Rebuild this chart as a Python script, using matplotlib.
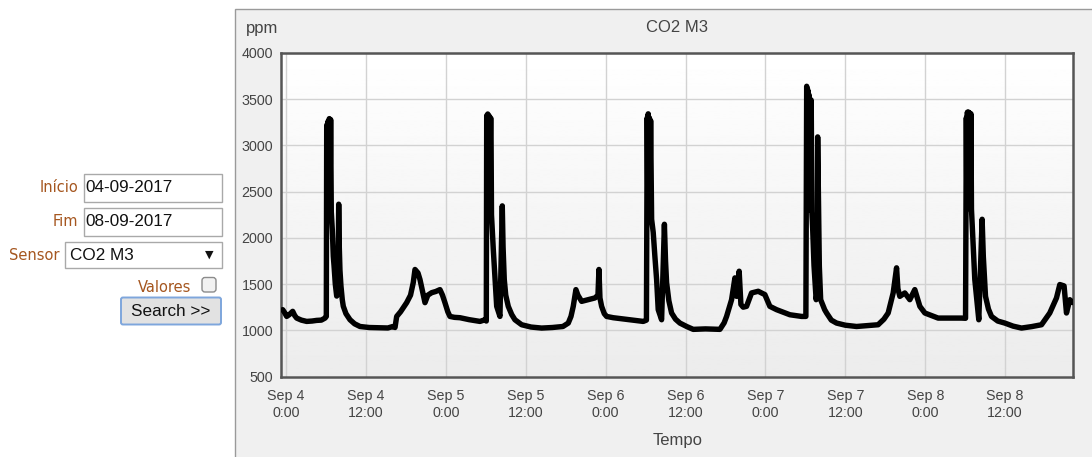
import matplotlib
matplotlib.use("Agg")
import matplotlib.pyplot as plt
import numpy as np
from matplotlib.patches import Rectangle, FancyBboxPatch

# CO2 readings, hours after Sep 4 0:00 and ppm
hours = (
    [-0.5, -0.2, 0.1, 0.5, 1.0, 1.3, 1.6, 2.3, 3.1, 3.9, 4.6, 5.3, 5.86, 6.05,
     6.11, 6.2, 6.3, 6.4, 6.5, 6.6, 6.7, 6.8, 6.95, 7.1, 7.21, 7.4, 7.61, 7.81,
     7.91, 8.0, 8.1, 8.25, 8.45, 8.6, 9.0, 9.61, 10.3, 11.11, 12.5, 14.11, 15.3,
     16.0, 16.37]
    + [16.62, 17.2, 18.12, 18.7, 19.11, 19.37, 19.82, 20.12, 20.5, 20.87, 21.3,
       21.88, 22.5, 23.12, 23.5, 23.87, 24.3, 24.62, 25.3, 26.13, 27.5, 29.13,
       29.88]
    + [30.08, 30.14, 30.22, 30.3, 30.4, 30.5, 30.6, 30.7, 30.78, 30.86, 31.13,
       31.64, 32.13, 32.48, 32.6, 32.78, 33.0, 33.38, 33.9, 34.38, 35.39, 36.8,
       38.39, 40.0, 41.59, 42.39, 42.8, 43.14, 43.54, 43.84, 44.4, 45.39, 46.4,
       46.85]
    + [47.0, 47.15, 47.4, 47.8, 48.15, 49.14, 51.0, 53.65, 54.13, 54.25, 54.33,
       54.4, 54.48, 54.57, 54.66, 54.76, 54.91, 55.15, 55.4, 55.66, 55.9, 56.41,
       56.83, 57.0, 57.16, 57.5, 57.91, 58.5, 59.16, 60.2, 61.16, 63.0, 65.17]
    + [65.8, 66.17, 66.92, 67.42, 67.67, 68.06, 68.32, 68.66, 69.17, 69.92,
       70.92, 71.92, 72.67, 73.68, 75.68, 77.43]
    + [78.08, 78.2, 78.3, 78.38, 78.45, 78.53, 78.62, 78.7, 78.8, 78.88, 78.98,
       79.1, 79.3, 79.62, 79.75, 79.85, 79.95, 80.1, 80.3, 80.9, 81.19, 81.9,
       82.69, 84.0, 85.69, 87.3, 88.93]
    + [89.8, 90.44, 91.19, 91.7, 91.9, 92.19, 92.94, 93.69, 94.44, 95.2, 95.95,
       97.94, 101.46]
    + [102.06, 102.18, 102.26, 102.34, 102.43, 102.52, 102.61, 102.7, 102.79,
       102.87, 102.95, 103.45, 104.05, 104.55, 104.73, 105.06, 105.5, 105.96,
       106.9, 107.96, 109.2, 110.47, 112.0, 113.47, 114.71, 115.72, 116.22,
       116.86, 117.22, 117.72, 118.17]
)
co2_ppm = (
    [1223, 1190, 1150, 1170, 1205, 1160, 1132, 1110, 1096, 1100, 1107, 1110, 1132, 1150,
     3220, 2350, 3260, 2300, 3290, 2300, 3280, 2280, 2090, 1800, 1700, 1500, 1370, 1500,
     2364, 1900, 1650, 1480, 1330, 1260, 1180, 1114, 1070, 1041, 1030, 1027, 1025,
     1040, 1030]
    + [1150, 1200, 1299, 1380, 1516, 1658, 1620, 1549, 1420, 1299, 1380,
       1407, 1420, 1440, 1380, 1299, 1200, 1150, 1140, 1136, 1115, 1096,
       1114]
    + [1100, 3324, 2350, 3340, 2300, 3320, 2280, 3300, 3290, 2250, 1875,
       1259, 1150, 2346, 1900, 1549, 1380, 1259, 1170, 1114, 1060, 1035,
       1024, 1030, 1041, 1078, 1150, 1259, 1440, 1380, 1313, 1331, 1350,
       1380]
    + [1658, 1350, 1259, 1180, 1150, 1136, 1120, 1096, 1110, 3300, 2500,
       3342, 2455, 3300, 2450, 3270, 2201, 2060, 1800, 1549, 1223, 1114,
       2147, 1750, 1516, 1320, 1187, 1120, 1078, 1040, 1010, 1015, 1010]
    + [1080, 1150, 1331, 1567, 1367, 1639, 1280, 1250, 1259, 1404,
       1422, 1386, 1259, 1223, 1168, 1150]
    + [1150, 3640, 2400, 3600, 2300, 3550, 2350, 3500, 2300, 3490, 2280,
       2100, 1700, 1331, 1400, 3092, 2500, 1693, 1331, 1223, 1187, 1110,
       1078, 1055, 1041, 1050, 1060]
    + [1120, 1187, 1404, 1676, 1450, 1367, 1404, 1331, 1440, 1259, 1187,
       1132, 1132]
    + [1130, 3300, 2350, 3360, 2330, 3360, 2320, 3350, 2310,
       3342, 2310, 1549, 1114, 2201, 1800, 1367, 1230, 1150,
       1100, 1078, 1045, 1024, 1040, 1060, 1187, 1350, 1495,
       1480, 1187, 1331, 1300]
)

tick_hours = [0, 12, 24, 36, 48, 60, 72, 84, 96, 108]
tick_labels = ["Sep 4\n0:00", "Sep 4\n12:00", "Sep 5\n0:00", "Sep 5\n12:00",
               "Sep 6\n0:00", "Sep 6\n12:00", "Sep 7\n0:00", "Sep 7\n12:00",
               "Sep 8\n0:00", "Sep 8\n12:00"]
y_ticks = [500, 1000, 1500, 2000, 2500, 3000, 3500, 4000]

chart_title = "CO2 M3"
y_unit = "ppm"
x_title = "Tempo"

start_date = "04-09-2017"
end_date = "08-09-2017"
sensor_name = "CO2 M3"

W, H, DPI = 1092, 457, 100
SANS = ["Liberation Sans", "DejaVu Sans"]
LABEL_FONT = ["DejaVu Sans"]
LABEL_COLOR = "#a5561f"
TEXT_GREY = "#444444"

fig = plt.figure(figsize=(W / DPI, H / DPI), dpi=DPI, facecolor="white")

# page layer in pixel units: chart panel and the search form
page = fig.add_axes([0, 0, 1, 1])
page.set_xlim(0, W)
page.set_ylim(H, 0)
page.axis("off")

page.add_patch(Rectangle((234.5, 8.5), W, H, facecolor="#f0f0f0",
                         edgecolor="#9a9a9a", lw=1.0))

def label(x, y, s):
    page.text(x, y, s, ha="right", va="center", fontsize=10.5,
              family=LABEL_FONT, color=LABEL_COLOR)

def field(x, y, w, h, s):
    page.add_patch(Rectangle((x, y), w, h, facecolor="white",
                             edgecolor="#a9a9a9", lw=1.0))
    page.text(x + 2, y + h / 2 + 0.5, s, ha="left", va="center",
              fontsize=12.3, family=SANS, color="#111111")

label(78, 187.5, "Início")
field(83.5, 173.5, 138, 28, start_date)
label(78, 221.5, "Fim")
field(83.5, 207.5, 138, 28, end_date)
label(60, 256, "Sensor")
page.add_patch(Rectangle((64.5, 241.5), 157, 26, facecolor="white",
                         edgecolor="#a9a9a9", lw=1.0))
page.text(70.5, 255, sensor_name, ha="left", va="center", fontsize=12.3,
          family=SANS, color="#111111")
page.text(209, 255, "\u25bc", ha="center", va="center", fontsize=8,
          family=["DejaVu Sans"], color="#111111")
label(191, 288, "Valores")
page.add_patch(FancyBboxPatch((202, 277.5), 14, 14.5,
                              boxstyle="round,pad=0,rounding_size=3",
                              facecolor="#f2f2f2", edgecolor="#8c8c8c", lw=1.0))
page.add_patch(FancyBboxPatch((121, 297.5), 100, 27,
                              boxstyle="round,pad=0,rounding_size=2",
                              facecolor="#e2e2e2", edgecolor="#7ea6dc", lw=1.4))
page.text(171, 311.5, "Search >>", ha="center", va="center", fontsize=12.3,
          family=SANS, color="#111111")

# chart
L, R, T, B = 281.5, 1073.0, 53.0, 376.5
ax = fig.add_axes([L / W, 1 - B / H, (R - L) / W, (B - T) / H])
x_min, x_max = -0.68, 118.2
y_min, y_max = 500, 4000

grad = np.linspace(1.0, 0.925, 256)[:, None]
ax.imshow(grad, cmap="gray", vmin=0, vmax=1, aspect="auto",
          extent=[x_min, x_max, y_min, y_max], origin="upper", zorder=-1)

ax.plot(hours, co2_ppm, color="black", lw=3.9, solid_joinstyle="round",
        solid_capstyle="round", zorder=3)

ax.set_xlim(x_min, x_max)
ax.set_ylim(y_min, y_max)
ax.set_xticks(tick_hours)
ax.set_xticklabels(tick_labels, linespacing=1.3)
ax.set_yticks(y_ticks)
ax.grid(True, color="#d2d2d2", lw=1.0, zorder=0)
ax.set_axisbelow(True)
ax.tick_params(axis="both", length=0, labelsize=10.3, labelcolor=TEXT_GREY)
ax.tick_params(axis="x", pad=9)
ax.tick_params(axis="y", pad=6)
for lbl in ax.get_xticklabels() + ax.get_yticklabels():
    lbl.set_family(SANS)
for sp in ax.spines.values():
    sp.set_color("#555555")
    sp.set_linewidth(1.8)

page.text((L + R) / 2, 27, chart_title, ha="center", va="center",
          fontsize=12, family=SANS, color=TEXT_GREY)
page.text(262, 28, y_unit, ha="center", va="center", fontsize=12,
          family=SANS, color=TEXT_GREY)
page.text((L + R) / 2, 441, x_title, ha="center", va="center",
          fontsize=12, family=SANS, color=TEXT_GREY)

fig.savefig("out.png", dpi=DPI, facecolor="white")
